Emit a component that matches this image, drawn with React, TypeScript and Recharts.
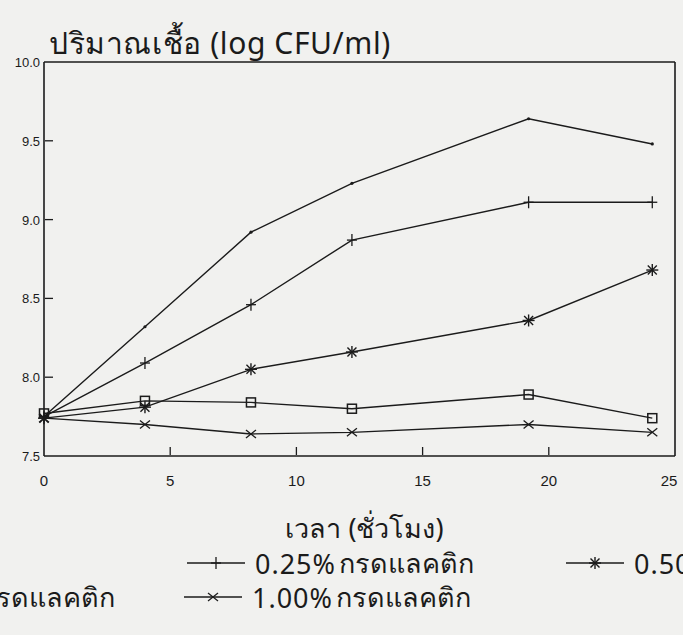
import { LineChart, Line, XAxis, YAxis, ReferenceLine, Legend } from "recharts"

const hours = [0, 4, 8.2, 12.2, 19.2, 24.1]
const control = [7.75, 8.32, 8.92, 9.23, 9.64, 9.48]
const acid025 = [7.75, 8.09, 8.46, 8.87, 9.11, 9.11]
const acid050 = [7.74, 7.81, 8.05, 8.16, 8.36, 8.68]
const acid075 = [7.77, 7.85, 7.84, 7.8, 7.89, 7.74]
const acid100 = [7.74, 7.7, 7.64, 7.65, 7.7, 7.65]

const xTicks = [0, 5, 10, 15, 20, 25]
const yTicks = [7.5, 8, 8.5, 9, 9.5, 10]

const yTitle = "ปริมาณเชื้อ (log CFU/ml)"
const xTitle = "เวลา (ชั่วโมง)"
const acidWord = "กรดแลคติก"
const legendRows = [
  { pct: "0.25%", key: "acid025" },
  { pct: "0.50%", key: "acid050" },
  { pct: "0.75%", key: "acid075" },
  { pct: "1.00%", key: "acid100" },
]

const data = hours.map((h, i) => ({
  hour: h,
  control: control[i],
  acid025: acid025[i],
  acid050: acid050[i],
  acid075: acid075[i],
  acid100: acid100[i],
}))

const ink = "#1b1b1b"
const thaiFont = '"Noto Sans", "DejaVu Sans", sans-serif'
const tickFont = '"Liberation Sans", Arial, sans-serif'

type MarkProps = { cx: number; cy: number }

const Dot = ({ cx, cy }: MarkProps) => <circle cx={cx} cy={cy} r={1.6} fill={ink} />
const Plus = ({ cx, cy }: MarkProps) => (
  <g stroke={ink} strokeWidth={1.3}>
    <line x1={cx} y1={cy - 6} x2={cx} y2={cy + 6} />
    <line x1={cx - 5} y1={cy} x2={cx + 5} y2={cy} />
  </g>
)
const Star = ({ cx, cy }: MarkProps) => (
  <g stroke={ink} strokeWidth={1.4}>
    <line x1={cx} y1={cy - 6} x2={cx} y2={cy + 6} />
    <line x1={cx - 6} y1={cy} x2={cx + 6} y2={cy} />
    <line x1={cx - 4.5} y1={cy - 4.5} x2={cx + 4.5} y2={cy + 4.5} />
    <line x1={cx - 4.5} y1={cy + 4.5} x2={cx + 4.5} y2={cy - 4.5} />
  </g>
)
const Square = ({ cx, cy }: MarkProps) => (
  <rect x={cx - 4.5} y={cy - 4.5} width={9} height={9} fill="none" stroke={ink} strokeWidth={1.5} />
)
const Cross = ({ cx, cy }: MarkProps) => (
  <g stroke={ink} strokeWidth={1.3}>
    <line x1={cx - 5} y1={cy - 4} x2={cx + 5} y2={cy + 4} />
    <line x1={cx - 5} y1={cy + 4} x2={cx + 5} y2={cy - 4} />
  </g>
)

const marks: Record<string, (p: MarkProps) => any> = {
  control: Dot,
  acid025: Plus,
  acid050: Star,
  acid075: Square,
  acid100: Cross,
}

const dotOf = (Mark: (p: MarkProps) => any) => (p: any) => <Mark key={p.index} cx={p.cx} cy={p.cy} />

const XTick = ({ x, y, payload }: any) => (
  <g>
    {payload.value > 0 && payload.value < 25 && (
      <line x1={x} y1={y - 1} x2={x} y2={y - 9} stroke={ink} strokeWidth={1.3} />
    )}
    <text x={payload.value === 25 ? x - 6 : x} y={y + 30} textAnchor="middle" fontSize={15} fontFamily={tickFont} fill={ink}>
      {payload.value}
    </text>
  </g>
)

const YTick = ({ x, y, payload }: any) => (
  <g>
    {payload.value > 7.5 && payload.value < 10 && (
      <line x1={x + 1} y1={y} x2={x + 9} y2={y} stroke={ink} strokeWidth={1.3} />
    )}
    <text x={x - 4} y={y + 5} textAnchor="end" fontSize={13} fontFamily={tickFont} fill={ink}>
      {payload.value.toFixed(1)}
    </text>
  </g>
)

const LegendMark = ({ Mark }: { Mark: (p: MarkProps) => any }) => (
  <svg width={60} height={20} style={{ display: "block", marginRight: 9 }}>
    <line x1={1} y1={10} x2={59} y2={10} stroke={ink} strokeWidth={1.6} />
    <Mark cx={30} cy={10} />
  </svg>
)

// where each legend entry sits in the scan (the 0.75% one runs off the left edge)
const legendSpots: Record<string, { left?: number; right?: number; top: number }> = {
  acid025: { left: 186, top: 27 },
  acid050: { left: 565, top: 27 },
  acid075: { right: 568, top: 61 },
  acid100: { left: 183, top: 61 },
}

const renderLegend = () => (
  <div style={{ position: "relative", width: 683, height: 100 }}>
    {legendRows.map((r) => (
      <div
        key={r.key}
        style={{
          position: "absolute",
          ...legendSpots[r.key],
          height: 32,
          display: "flex",
          alignItems: "center",
          whiteSpace: "nowrap",
          fontFamily: thaiFont,
          fontSize: 27,
          color: ink,
        }}
      >
        <LegendMark Mark={marks[r.key]} />
        <span style={{ letterSpacing: 1 }}>{r.pct}</span>
        <span style={{ marginLeft: 3 }}>{acidWord}</span>
      </div>
    ))}
  </div>
)

export default function App() {
  return (
    <div style={{ position: "absolute", left: 0, top: 0, width: 683, height: 635, background: "#f1f1ef", overflow: "hidden" }}>
      <LineChart width={683} height={635} data={data} margin={{ top: 62, right: 8, left: 43, bottom: 178 }}>
        <XAxis
          dataKey="hour"
          type="number"
          domain={[0, 25]}
          ticks={xTicks}
          height={1}
          tickSize={0}
          tickMargin={0}
          tickLine={false}
          tick={XTick}
          axisLine={{ stroke: ink, strokeWidth: 1.6 }}
          label={(p: any) => (
            <text
              x={p.viewBox.x + p.viewBox.width / 2 + 5}
              y={p.viewBox.y + 82}
              textAnchor="middle"
              fontSize={27}
              fontFamily={thaiFont}
              fill={ink}
            >
              {xTitle}
            </text>
          )}
        />
        <YAxis
          type="number"
          domain={[7.5, 10]}
          ticks={yTicks}
          width={1}
          tickSize={0}
          tickMargin={0}
          tickLine={false}
          tick={YTick}
          axisLine={{ stroke: ink, strokeWidth: 1.6 }}
          label={(p: any) => (
            <text
              x={p.viewBox.x + 6}
              y={p.viewBox.y - 8}
              fontSize={30}
              letterSpacing={0.6}
              fontFamily={thaiFont}
              fill={ink}
            >
              {yTitle}
            </text>
          )}
        />
        <ReferenceLine y={10} stroke={ink} strokeWidth={1.6} />
        <ReferenceLine x={25} stroke={ink} strokeWidth={1.6} />
        <Legend verticalAlign="middle" align="center" layout="horizontal" content={renderLegend} wrapperStyle={{ position: "absolute", left: 0, top: 520, width: 683 }} />
        <Line dataKey="control" name="control" stroke={ink} strokeWidth={1.4} dot={dotOf(Dot)} isAnimationActive={false} legendType="none" />
        <Line dataKey="acid025" stroke={ink} strokeWidth={1.4} dot={dotOf(Plus)} isAnimationActive={false} />
        <Line dataKey="acid050" stroke={ink} strokeWidth={1.4} dot={dotOf(Star)} isAnimationActive={false} />
        <Line dataKey="acid075" stroke={ink} strokeWidth={1.4} dot={dotOf(Square)} isAnimationActive={false} />
        <Line dataKey="acid100" stroke={ink} strokeWidth={1.4} dot={dotOf(Cross)} isAnimationActive={false} />
      </LineChart>
    </div>
  )
}
